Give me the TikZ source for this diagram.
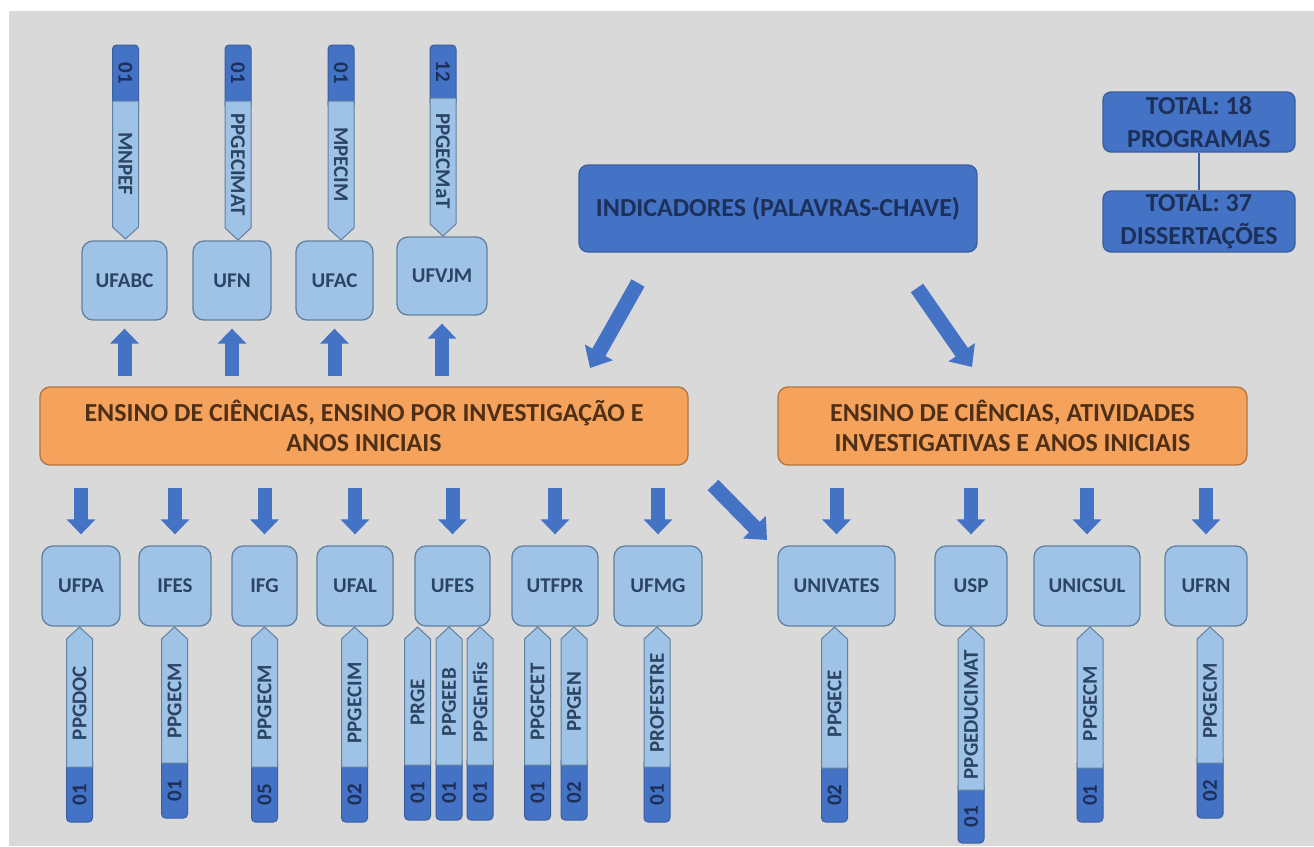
\documentclass[tikz,border=0pt]{standalone}
\usepackage{fontspec}
\setmainfont{Carlito}
\usetikzlibrary{arrows.meta,calc}
\definecolor{bgc}{HTML}{D9D9D9}
\definecolor{lightfill}{HTML}{9FC3E7}
\definecolor{lightdraw}{HTML}{62809F}
\definecolor{lighttext}{HTML}{2B4464}
\definecolor{darkfill}{HTML}{4472C4}
\definecolor{darkdraw}{HTML}{3A5F9F}
\definecolor{darktext}{HTML}{1C305A}
\definecolor{orfill}{HTML}{F5A25D}
\definecolor{ordraw}{HTML}{B0753F}
\definecolor{ortext}{HTML}{4F3016}
\definecolor{arrowc}{HTML}{4472C4}
\tikzset{
  unibox/.style={draw=lightdraw,fill=lightfill,line width=1.3pt,rounded corners=11pt,
    text=lighttext,font=\bfseries\fontsize{21}{24}\selectfont,inner sep=0pt},
  orbox/.style={draw=ordraw,fill=orfill,line width=1.3pt,rounded corners=10pt,
    text=ortext,font=\bfseries\fontsize{26}{30}\selectfont,align=center,inner sep=0pt},
  bluebox/.style={draw=darkdraw,fill=darkfill,line width=1.3pt,rounded corners=9pt,
    text=darktext,font=\bfseries\fontsize{26}{30}\selectfont,align=center,inner sep=0pt},
  totbox/.style={draw=darkdraw,fill=darkfill,line width=1.3pt,rounded corners=8pt,
    text=darktext,font=\bfseries\fontsize{26}{33}\selectfont,align=center,inner sep=0pt},
  tagdark/.style={draw=darkdraw,fill=darkfill,line width=1pt,rounded corners=4pt},
  taglight/.style={draw=lightdraw,fill=lightfill,line width=1pt},
  tagtext/.style={text=lighttext,font=\bfseries\fontsize{21}{24}\selectfont,inner sep=0pt},
  numtext/.style={text=darktext,font=\bfseries\fontsize{21}{24}\selectfont,inner sep=0pt},
  blk/.style={draw=arrowc,line width=14pt,-{Triangle[width=28pt,length=15pt]}},
  blkd/.style={draw=arrowc,line width=15pt,-{Triangle[width=31pt,length=18pt]}},
}
% top tag: name, x, top, darkbottom, tip, label, number
\newcommand\toptag[7]{%
  \draw[tagdark] (#2-13,#3) rectangle (#2+13,#4+8);
  \draw[taglight] (#2-13,#4) -- (#2-13,#5-12) -- (#2,#5) -- (#2+13,#5-12) -- (#2+13,#4) -- cycle;
  \node[tagtext,rotate=-90] (#1) at (#2,{(#4+#5-12)/2}) {#6};
  \node[numtext,rotate=-90] (#1n) at (#2,{(#3+#4)/2}) {#7};
}
% bottom tag: name, x, tip, darktop, bottom, label, number
\newcommand\bottag[7]{%
  \draw[tagdark] (#2-13,#4-8) rectangle (#2+13,#5);
  \draw[taglight] (#2-13,#4) -- (#2-13,#3+12) -- (#2,#3) -- (#2+13,#3+12) -- (#2+13,#4) -- cycle;
  \node[tagtext,rotate=90] (#1) at (#2,{(#3+12+#4)/2}) {#6};
  \node[numtext,rotate=90] (#1n) at (#2,{(#4+#5)/2}) {#7};
}
\newcommand\unibx[6]{% name, x1, x2, y1, y2, text
  \node[unibox,minimum width={#3-#2},minimum height={#5-#4}] (#1) at ({(#2+#3)/2},{(#4+#5)/2}) {#6};
}
\begin{document}
\begin{tikzpicture}[x=1pt,y=-1pt]
\useasboundingbox (0,0) rectangle (1314,846);
\fill[white] (0,0) rectangle (1314,846);
\fill[bgc] (9,11) rectangle (1314,846);

% top tags
\toptag{tmnpef}{125.5}{45}{101}{239}{MNPEF}{01}
\toptag{tppgecimat}{238}{45}{101}{240}{PPGECIMAT}{01}
\toptag{tmpecim}{341}{45}{101}{240}{MPECIM}{01}
\toptag{tppgecmat}{443}{45}{98}{236}{PPGECMaT}{12}

% top boxes
\unibx{ufabc}{82}{167}{241}{320}{UFABC}
\unibx{ufn}{193}{271}{241}{320}{UFN}
\unibx{ufac}{296}{373}{241}{320}{UFAC}
\unibx{ufvjm}{397}{487}{237}{315}{UFVJM}

% indicadores and totals
\node[bluebox,minimum width=398pt,minimum height=87pt] (ind) at (778,208.5) {INDICADORES (PALAVRAS-CHAVE)};
\node[totbox,minimum width=192pt,minimum height=60pt] (tot1) at (1199,122) {TOTAL: 18\\PROGRAMAS};
\node[totbox,minimum width=192pt,minimum height=61pt] (tot2) at (1199,221.5) {TOTAL: 37\\DISSERTAÇÕES};
\draw[draw=darkdraw,line width=1.5pt] (tot1.south) -- (tot2.north);

% orange boxes
\node[orbox,minimum width=648pt,minimum height=78pt] (o1) at (364,426) {ENSINO DE CIÊNCIAS, ENSINO POR INVESTIGAÇÃO E\\ANOS INICIAIS};
\node[orbox,minimum width=469pt,minimum height=78pt] (o2) at (1012.5,426) {ENSINO DE CIÊNCIAS, ATIVIDADES\\INVESTIGATIVAS E ANOS INICIAIS};

% bottom boxes
\unibx{ufpa}{42}{120}{546}{626}{UFPA}
\unibx{ifes}{139}{211}{546}{626}{IFES}
\unibx{ifg}{232}{297}{546}{626}{IFG}
\unibx{ufal}{317}{393}{546}{626}{UFAL}
\unibx{ufes}{415}{490}{546}{626}{UFES}
\unibx{utfpr}{512}{598}{546}{626}{UTFPR}
\unibx{ufmg}{614}{702}{546}{626}{UFMG}
\unibx{univates}{778}{895}{546}{626}{UNIVATES}
\unibx{usp}{935}{1007}{546}{626}{USP}
\unibx{unicsul}{1034}{1140}{546}{626}{UNICSUL}
\unibx{ufrn}{1165}{1247}{546}{626}{UFRN}

% bottom tags
\bottag{bppgdoc}{79.5}{627}{767}{822}{PPGDOC}{01}
\bottag{bppgecma}{174.5}{627}{763}{818}{PPGECM}{01}
\bottag{bppgecmb}{264.5}{627}{767}{822}{PPGECM}{05}
\bottag{bppgecim}{354.5}{627}{767}{822}{PPGECIM}{02}
\bottag{bprge}{417.5}{627}{765}{820}{PRGE}{01}
\bottag{bppgeeb}{449}{627}{765}{820}{PPGEEB}{01}
\bottag{bppgenfis}{480}{627}{765}{820}{PPGEnFis}{01}
\bottag{bppgfcet}{537.5}{627}{765}{820}{PPGFCET}{01}
\bottag{bppgen}{574}{627}{765}{820}{PPGEN}{02}
\bottag{bprofestre}{657}{627}{767}{822}{PROFESTRE}{01}
\bottag{bppgece}{834.5}{627}{768}{822}{PPGECE}{02}
\bottag{bppgeducimat}{971}{627}{790}{843}{PPGEDUCIMAT}{01}
\bottag{bppgecmc}{1090}{627}{768}{822}{PPGECM}{01}
\bottag{bppgecmd}{1210}{627}{763}{818}{PPGECM}{02}

% up arrows
\foreach \b in {ufabc,ufn,ufac,ufvjm}
  \draw[blk,shorten <=10pt,shorten >=8pt] (\b.south |- o1.north) -- (\b.south);
% down arrows
\foreach \b in {ufpa,ifes,ifg,ufal,ufes,utfpr,ufmg}
  \draw[blk,shorten <=22pt,shorten >=11pt] (\b.north |- o1.south) -- (\b.north);
\foreach \b in {univates,usp,unicsul,ufrn}
  \draw[blk,shorten <=22pt,shorten >=11pt] (\b.north |- o2.south) -- (\b.north);

% diagonal arrows
\coordinate (dla) at (638,283);
\coordinate (dlb) at (590,368);
\coordinate (dra) at (917,288);
\coordinate (drb) at (972,367);
\coordinate (dma) at (713,485);
\coordinate (dmb) at (767,540);
\draw[blkd] (dla) -- (dlb);
\draw[blkd] (dra) -- (drb);
\draw[blkd] (dma) -- (dmb);
\end{tikzpicture}
\end{document}
